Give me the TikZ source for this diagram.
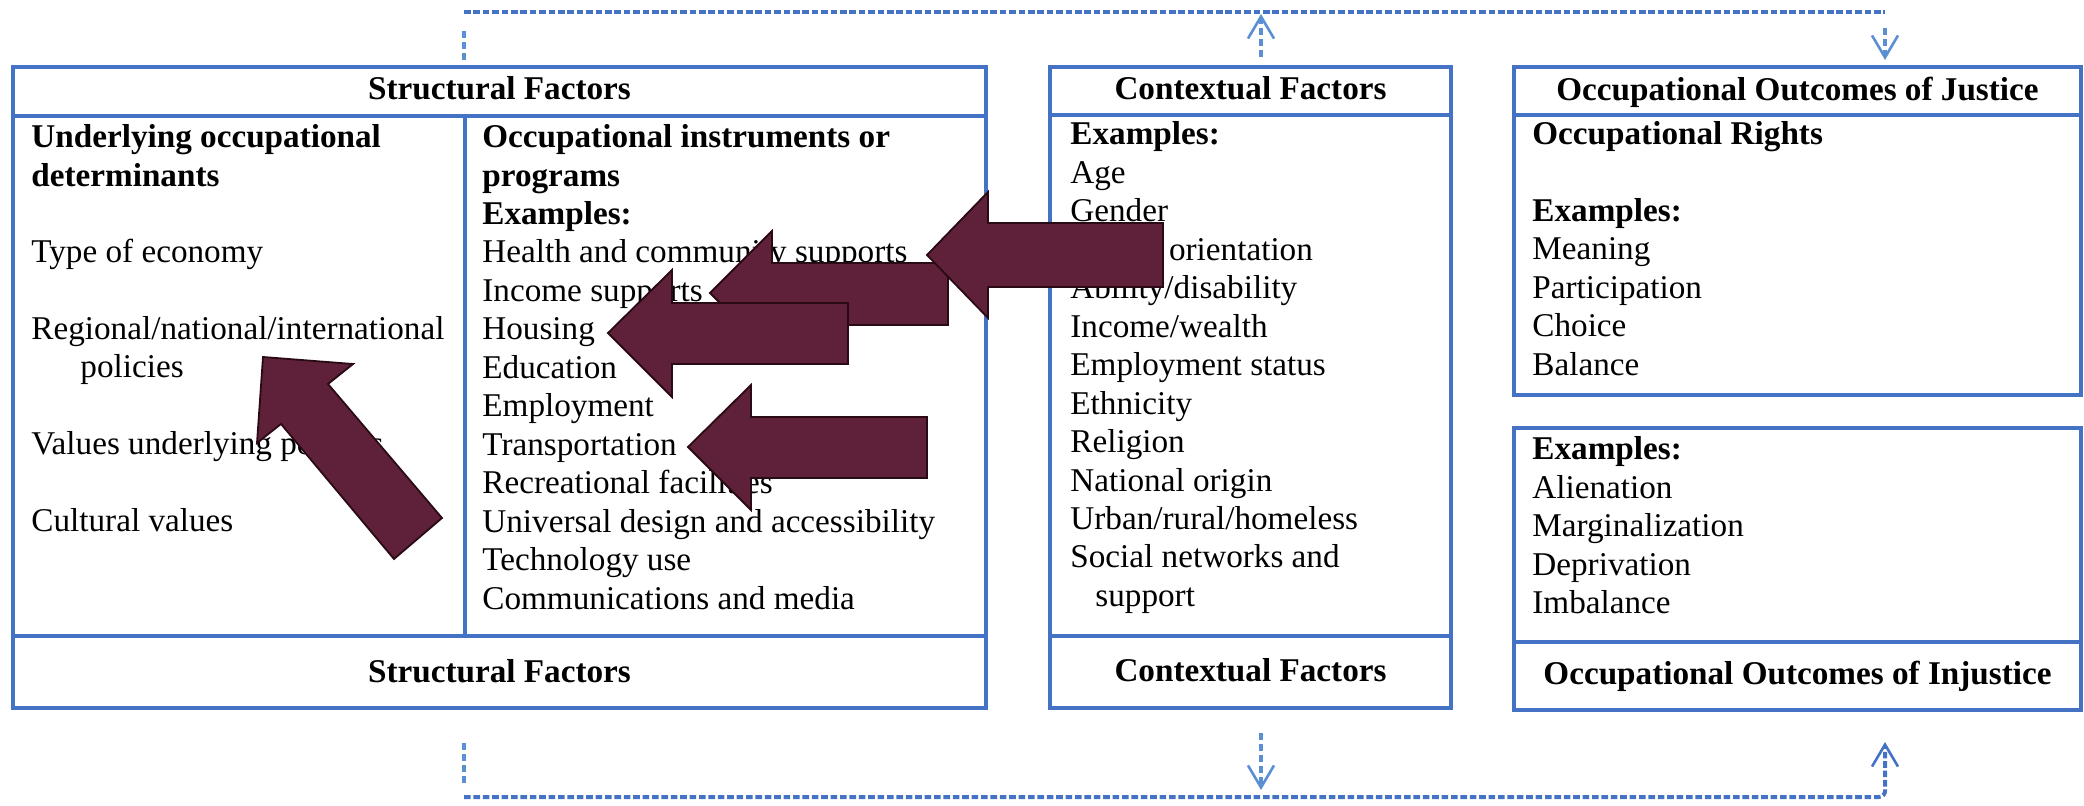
\documentclass[tikz,border=0pt]{standalone}
\usepackage{fontspec}
\setmainfont{Liberation Serif}
\usetikzlibrary{arrows.meta}
\definecolor{boxblue}{HTML}{4472C4}
\definecolor{dashblue}{HTML}{5B8FD3}
\definecolor{maroonfill}{HTML}{5F2139}
\definecolor{maroonline}{HTML}{2A0A14}
\newcommand\myfs{\fontsize{16.6}{19.25}\selectfont}
\begin{document}
\begin{tikzpicture}[x=0.5pt,y=-0.5pt,
 panel/.style={draw=boxblue,line width=2pt,inner sep=0,outer sep=0,anchor=north west},
 divider/.style={draw=boxblue,line width=2pt},
 txt/.style={anchor=base west,inner sep=0,font=\myfs},
 btxt/.style={anchor=base west,inner sep=0,font=\myfs\bfseries},
 hdr/.style={anchor=base,inner sep=0,font=\myfs\bfseries},
 dotline/.style={draw=boxblue,line width=2pt,dash pattern=on 3.3pt off 1.4pt},
 vdash/.style={draw=dashblue,line width=1.8pt,dash pattern=on 3.3pt off 2.2pt},
 opentip/.style={-{Straight Barb[length=11pt,width=13pt,line width=1.3pt]}},
 blockarrow/.style={fill=maroonfill,draw=maroonline,line width=0.9pt,line join=miter}]

\useasboundingbox (0,0) rectangle (2084,806);

% ---------- panels ----------
\node[panel,minimum width=486.5pt,minimum height=320.5pt] (sf) at (13,67) {};
\node[panel,minimum width=200.5pt,minimum height=320.5pt] (cf) at (1050,67) {};
\node[panel,minimum width=283.5pt,minimum height=164pt] (oj) at (1514,67) {};
\node[panel,minimum width=283.5pt,minimum height=141pt] (oi) at (1514,428) {};

\draw[divider] (sf.west |- 0,116) -- (sf.east |- 0,116);
\draw[divider] (sf.west |- 0,636) -- (sf.east |- 0,636);
\coordinate (colTop) at (465,116);
\coordinate (colBot) at (465,636);
\draw[divider] (colTop) -- (colBot);
\draw[divider] (cf.west |- 0,115) -- (cf.east |- 0,115);
\draw[divider] (cf.west |- 0,636) -- (cf.east |- 0,636);
\draw[divider] (oj.west |- 0,115) -- (oj.east |- 0,115);
\draw[divider] (oi.west |- 0,642) -- (oi.east |- 0,642);

% ---------- headers / footers ----------
\node[hdr] (sfh) at (499.5,100) {Structural Factors};
\node[hdr] (sff) at (499.5,683) {Structural Factors};
\node[hdr] (cfh) at (1250.5,100) {Contextual Factors};
\node[hdr] (cff) at (1250.5,682) {Contextual Factors};
\node[hdr] (ojh) at (1797.5,101) {Occupational Outcomes of Justice};
\node[hdr] (oif) at (1797.5,685) {Occupational Outcomes of Injustice};

% ---------- structural: left column ----------
\node[btxt] (l1) at (31,148) {Underlying occupational};
\node[btxt] (l2) at (31,187) {determinants};
\node[txt] (l3) at (31,263) {Type of economy};
\node[txt] (l4) at (31,340) {Regional/national/international};
\node[txt] (l5) at (80,378) {policies};
\node[txt] (l6) at (31,455) {Values underlying policies};
\node[txt] (l7) at (31,532) {Cultural values};

% ---------- structural: right column ----------
\node[btxt] (r0a) at (482,148) {Occupational instruments or};
\node[btxt] (r0b) at (482,187) {programs};
\node[btxt] (r0c) at (482,225) {Examples:};
\foreach \t [count=\i] in {Health and community supports,Income supports,Housing,Education,Employment,Transportation,Recreational facilities,Universal design and accessibility,Technology use,Communications and media}
  \node[txt] (r\i) at (482,{263+38.45*(\i-1)}) {\t};

% ---------- contextual ----------
\node[btxt] (c0) at (1070,145) {Examples:};
\foreach \t [count=\i] in {Age,Gender,Sexual orientation,Ability/disability,Income/wealth,Employment status,Ethnicity,Religion,National origin,Urban/rural/homeless,Social networks and}
  \node[txt] (c\i) at (1070,{183.5+38.45*(\i-1)}) {\t};
\node[txt] (c12) at (1095,607) {support};

% ---------- justice ----------
\node[btxt] (j0) at (1532,145) {Occupational Rights};
\node[btxt] (j1) at (1532,222) {Examples:};
\foreach \t [count=\i] in {Meaning,Participation,Choice,Balance}
  \node[txt] (jj\i) at (1532,{260+38.45*(\i-1)}) {\t};

% ---------- injustice ----------
\node[btxt] (i0) at (1532,460) {Examples:};
\foreach \t [count=\i] in {Alienation,Marginalization,Deprivation,Imbalance}
  \node[txt] (ii\i) at (1532,{498.5+38.45*(\i-1)}) {\t};

% ---------- dotted connectors ----------
\coordinate (topL) at (464,12);
\coordinate (topR) at (1885,12);
\coordinate (sfUpA) at (464,60);
\coordinate (sfUpB) at (464,28);
\coordinate (cfUpA) at (1261,57);
\coordinate (cfUpB) at (1261,14);
\coordinate (ojDnA) at (1885,28);
\coordinate (ojDnB) at (1885,60);
\draw[dotline] (topL) -- (topR);
\draw[vdash] (sfUpA) -- (sfUpB);
\draw[vdash,opentip] (cfUpA) -- (cfUpB);
\draw[vdash,opentip] (ojDnA) -- (ojDnB);

\coordinate (botL) at (464,797);
\coordinate (botR) at (1885,797);
\coordinate (oiTip) at (1885,742);
\coordinate (sfDnA) at (464,743);
\coordinate (sfDnB) at (464,785);
\coordinate (cfDnA) at (1261,733);
\coordinate (cfDnB) at (1261,790);
\draw[vdash] (sfDnA) -- (sfDnB);
\draw[vdash,opentip] (cfDnA) -- (cfDnB);
\draw[dotline,rounded corners=3pt,opentip] (botL) -- (botR) -- (oiTip);

% ---------- block arrows ----------
\draw[blockarrow] (710,293) -- (772,231) -- (772,263) -- (948,263) -- (948,325) -- (772,325) -- (772,355) -- cycle;
\draw[blockarrow] (608,333) -- (672,270) -- (672,303) -- (848,303) -- (848,364) -- (672,364) -- (672,397) -- cycle;
\draw[blockarrow] (927,255) -- (988,192) -- (988,223) -- (1163,223) -- (1163,287) -- (988,287) -- (988,318) -- cycle;
\draw[blockarrow] (688,447) -- (751,385) -- (751,417) -- (927,417) -- (927,478) -- (751,478) -- (751,510) -- cycle;
\draw[blockarrow] (263,357) -- (353,364) -- (328,384) -- (442,518) -- (394,559) -- (281,424) -- (257,443) -- cycle;
\end{tikzpicture}
\end{document}
